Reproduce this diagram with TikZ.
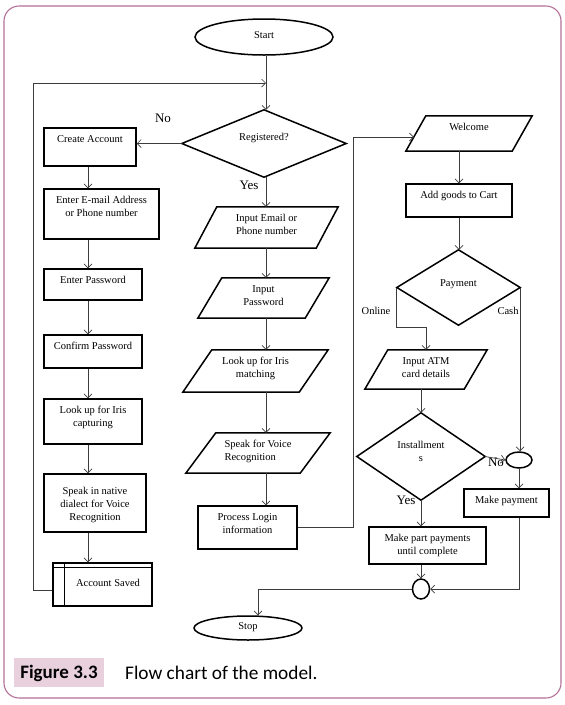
\documentclass[tikz,border=0pt]{standalone}
\usepackage{fontspec}
\setmainfont{Liberation Serif}
\newfontfamily\capfont{Carlito}
\usetikzlibrary{arrows.meta,shapes.geometric,calc}
\newcommand{\dgmfont}{\fontsize{10.5}{13}\selectfont}
\newcommand{\paraoutline}[2]{\draw[shapeline] ([xshift=#2]#1.north west) -- (#1.north east) -- ([xshift=-#2]#1.south east) -- (#1.south west) -- cycle;}
\newcommand{\diaoutline}[1]{\draw[shapeline] (#1.north) -- (#1.east) -- (#1.south) -- (#1.west) -- cycle;}
\definecolor{framec}{RGB}{180,112,152}
\definecolor{capfill}{RGB}{232,208,221}
\definecolor{connc}{RGB}{60,60,60}
\begin{document}
\begin{tikzpicture}[x=1pt,y=-1pt,
  base/.style={font=\dgmfont, align=center, inner xsep=1pt, inner ysep=6pt, text height=8pt},
  two/.style={text height=21pt},
  three/.style={text height=34pt},
  rbox/.style={base, draw, line width=1.5pt, rectangle},
  pbox/.style={base, rectangle},
  shapeline/.style={line width=1.5pt, line join=miter},
  oval/.style={ellipse, draw, line width=1.5pt, inner sep=0pt, font=\dgmfont},
  conn/.style={line width=0.7pt, draw=connc, -{Straight Barb[length=4pt,width=8pt]}},
  lbl/.style={font=\dgmfont, inner sep=0pt},
  biglbl/.style={font=\fontsize{13}{15}\selectfont, inner sep=0pt}]
\useasboundingbox (0,0) rectangle (565,705);
% frame and caption
\draw[framec, line width=1.1pt, rounded corners=15pt] (4,6) rectangle (561,698);
\fill[capfill] (14,658) rectangle (104,687);
\node[font=\capfont\bfseries\fontsize{19}{21}\selectfont, inner sep=0pt] (fig) at (59,673) {Figure 3.3};
\node[font=\capfont\fontsize{19.3}{21}\selectfont, anchor=west, inner sep=0pt] (cap) at (125,673) {Flow chart of the model.};

% terminals
\node[oval, minimum width=138pt, minimum height=36pt, text height=8pt, text depth=5pt] (st) at (264,37) {Start};
\node[oval, minimum width=108pt, minimum height=24pt, text height=8pt, text depth=5pt] (sp) at (248,628) {Stop};

% left column
\node[rbox, minimum width=92pt, minimum height=38pt, text depth=18pt] (ca) at (90,147) {Create Account};
\node[rbox, two, minimum width=115pt, minimum height=50pt, text depth=17pt] (em) at (101.5,214) {Enter E-mail Address\\or Phone number};
\node[rbox, minimum width=98pt, minimum height=31pt, text depth=11pt] (pw) at (93,284.5) {Enter Password};
\node[rbox, minimum width=98pt, minimum height=33pt, text depth=13pt] (cp) at (93,351.5) {Confirm Password};
\node[rbox, two, minimum width=98pt, minimum height=45pt, text depth=12pt] (li) at (93,421.5) {Look up for Iris\\capturing};
\node[rbox, three, minimum width=102pt, minimum height=58pt, text depth=0pt] (sn) at (95,503) {Speak in native\\dialect for Voice\\Recognition};
\node[rbox, minimum width=99pt, minimum height=43pt, text height=17.5pt, text depth=13.5pt] (as) at (102.5,584.5) {\hspace*{11pt}Account Saved};
\draw[shapeline] ([yshift=-5pt]as.north west) -- ([yshift=-5pt]as.north east);
\draw[shapeline] ([xshift=12pt]as.north west) -- ([xshift=12pt]as.south west);

% middle column
\node[pbox, minimum width=164pt, minimum height=67pt, text depth=14pt] (rg) at (264,143.5) {Registered?};
\diaoutline{rg}
\node[pbox, two, minimum width=143pt, minimum height=41pt, text depth=8pt] (ie) at (266.5,227.5) {Input Email or\\Phone number};
\paraoutline{ie}{22pt}
\node[pbox, two, minimum width=131pt, minimum height=40pt, text depth=7pt] (ip) at (263.5,298) {Input\\Password};
\paraoutline{ip}{24pt}
\node[pbox, two, minimum width=145pt, minimum height=42pt, text depth=9pt] (lm) at (255.5,371) {Look up for Iris\\matching};
\paraoutline{lm}{29pt}
\node[pbox, two, align=left, minimum width=144pt, minimum height=40pt, text depth=7pt] (sv) at (258,453) {Speak for Voice\\Recognition};
\paraoutline{sv}{30pt}
\node[rbox, two, minimum width=99pt, minimum height=43pt, text depth=10pt] (pl) at (247.5,527.5) {Process Login\\information};

% right column
\node[pbox, minimum width=126pt, minimum height=35pt, text depth=15pt] (wc) at (469,133.5) {Welcome};
\paraoutline{wc}{20pt}
\node[rbox, minimum width=106pt, minimum height=33pt, text depth=13pt] (ag) at (459,200.5) {Add goods to Cart};
\node[pbox, minimum width=123pt, minimum height=75pt, text depth=11pt] (pay) at (458.5,287.5) {Payment};
\diaoutline{pay}
\node[pbox, two, minimum width=122pt, minimum height=39pt, text depth=6pt] (atm) at (426,369.5) {Input ATM\\card details};
\paraoutline{atm}{23pt}
\node[pbox, two, minimum width=128pt, minimum height=87pt, text depth=11pt] (inst) at (421,456.5) {Installment\\s};
\diaoutline{inst}
\node[oval, minimum width=26pt, minimum height=16pt] (c1) at (519,460) {};
\node[rbox, minimum width=85pt, minimum height=28pt, text depth=8pt] (mp) at (506.5,503) {Make payment};
\node[rbox, two, minimum width=117pt, minimum height=37pt, text depth=4pt] (pp) at (427.5,545.5) {Make part payments\\until complete};
\node[oval, minimum width=17pt, minimum height=20pt] (c2) at (421,589) {};

% labels
\node[biglbl] (lno1) at (163,118) {No};
\node[biglbl] (lyes1) at (249,185) {Yes};
\node[lbl] (lon) at (376,311) {Online};
\node[lbl] (lcash) at (508,311) {Cash};
\node[biglbl] (lno2) at (496,462) {No};
\node[biglbl] (lyes2) at (406,500) {Yes};

% helper coordinates
\coordinate (lx) at (88,0);
\coordinate (mx) at (266,0);
\coordinate (lp) at (33,83);
\coordinate (wx) at (353,0);
\coordinate (wcin) at ($(wc.south west)!0.4!([xshift=20pt]wc.north west)$);

% connectors
\draw[conn] (st.south -| mx) -- (rg.north -| mx);
\draw[conn] ([yshift=-6pt]as.west) -| (lp) -- (lp -| mx);
\draw[conn] (rg.west) -- (rg.west -| ca.east);
\draw[conn] (ca.south -| lx) -- (em.north -| lx);
\draw[conn] (em.south -| lx) -- (pw.north -| lx);
\draw[conn] (pw.south -| lx) -- (cp.north -| lx);
\draw[conn] (cp.south -| lx) -- (li.north -| lx);
\draw[conn] (li.south -| lx) -- (sn.north -| lx);
\draw[conn] (sn.south -| lx) -- (as.north -| lx);
\draw[conn] (rg.south -| mx) -- (ie.north -| mx);
\draw[conn] (ie.south -| mx) -- (ip.north -| mx);
\draw[conn] (ip.south -| mx) -- (lm.north -| mx);
\draw[conn] (lm.south -| mx) -- (sv.north -| mx);
\draw[conn] (sv.south -| mx) -- (pl.north -| mx);
\draw[conn] (pl.east) -| (wx |- wcin) -- (wcin);
\draw[conn] (wc.south -| ag.north) -- (ag.north);
\draw[conn] (ag.south) -- (ag.south |- pay.north);
\draw[conn] (pay.west) |- (atm.north |- 0,327) -- (atm.north);
\draw[conn] (pay.east) -- (pay.east |- c1.north);
\draw[conn] (atm.south -| inst.north) -- (inst.north);
\draw[conn] (inst.east) -- (c1.west);
\draw[conn] (c1.south) -- (c1.south |- mp.north);
\draw[conn] (inst.south) -- (inst.south |- pp.north);
\draw[conn] (pp.south -| c2.north) -- (c2.north);
\draw[conn] (mp.south -| c1.south) |- (c2.east);
\draw[conn] (c2.west) -| ([xshift=10pt]sp.north);
\end{tikzpicture}
\end{document}
